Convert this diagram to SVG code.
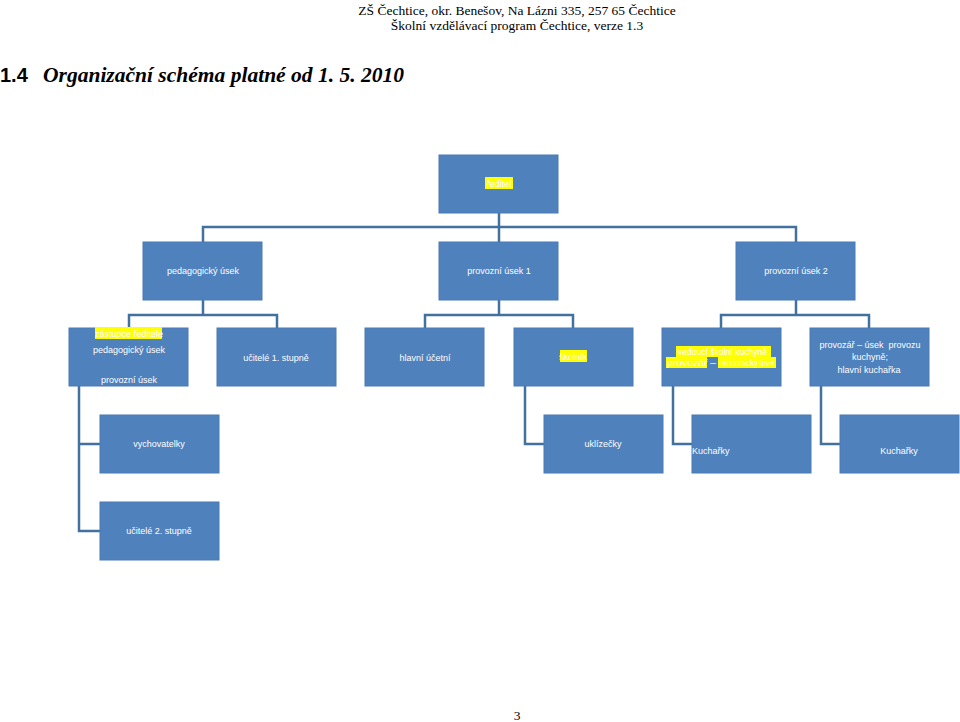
<svg xmlns="http://www.w3.org/2000/svg" width="960" height="722" viewBox="0 0 960 722">
<style>
.hdr{font-family:"Liberation Serif",serif;font-size:13.5px;fill:#000;text-anchor:middle}
.ttl{font-family:"Liberation Serif",serif;font-size:22px;font-weight:bold;font-style:italic;fill:#000}
.num{font-family:"Liberation Sans",sans-serif;font-size:20px;font-weight:bold;fill:#000}
.box{fill:#4f81bd;stroke:#4a7ab5;stroke-width:1}
.t{font-family:"Liberation Sans","DejaVu Sans",sans-serif;font-size:9px;fill:#fff;text-anchor:middle}
.hl{fill:#ffff00}
.c{fill:none;stroke:#41719c;stroke-width:2.5}
</style>
<rect width="960" height="722" fill="#fff"/>
<text class="hdr" x="517" y="15">ZŠ Čechtice, okr. Benešov, Na Lázni 335, 257 65 Čechtice</text>
<text class="hdr" x="517" y="30">Školní vzdělávací program Čechtice, verze 1.3</text>
<text class="num" x="0" y="82">1.4</text>
<text class="ttl" x="43" y="82" textLength="361" lengthAdjust="spacingAndGlyphs">Organizační schéma platné od 1. 5. 2010</text>

<g id="connectors">
<path class="c" d="M499,213 V227 M203,242 V227 H796 V242 M499,227 V242"/>
<path class="c" d="M203,300 V315 M129,328 V315 H277 V328"/>
<path class="c" d="M499,300 V315 M425,328 V315 H573 V328"/>
<path class="c" d="M796,300 V315 M721,328 V315 H869 V328"/>
<path class="c" d="M79,386 V531 H100 M79,444 H100"/>
<path class="c" d="M525,386 V444 H544"/>
<path class="c" d="M673,386 V444 H692"/>
<path class="c" d="M821,386 V444 H840"/>
</g>

<g id="reditel">
<rect class="box" x="439" y="155" width="119" height="58"/>
<rect class="hl" x="485" y="177" width="28" height="12"/>
<text class="t" x="499" y="187">ředitel</text>
</g>
<g id="pedagogicky">
<rect class="box" x="143" y="242" width="119" height="58"/>
<text class="t" x="203" y="274">pedagogický úsek</text>
</g>
<g id="provozni1">
<rect class="box" x="439" y="242" width="119" height="58"/>
<text class="t" x="499" y="274">provozní úsek 1</text>
</g>
<g id="provozni2">
<rect class="box" x="736" y="242" width="119" height="58"/>
<text class="t" x="796" y="274">provozní úsek 2</text>
</g>

<g id="zastupce">
<rect class="box" x="69" y="328" width="119" height="58"/>
<rect class="hl" x="95" y="327" width="67" height="12"/>
<text class="t" x="129" y="337">zástupce ředitele</text>
<text class="t" x="129" y="353">pedagogický úsek</text>
<text class="t" x="129" y="383">provozní úsek</text>
</g>
<g id="ucitele1">
<rect class="box" x="217" y="328" width="119" height="58"/>
<text class="t" x="276" y="361">učitelé 1. stupně</text>
</g>
<g id="ucetni">
<rect class="box" x="365" y="328" width="119" height="58"/>
<text class="t" x="425" y="361">hlavní účetní</text>
</g>
<g id="skolnik">
<rect class="box" x="514" y="328" width="119" height="58"/>
<rect class="hl" x="560" y="350" width="27" height="12"/>
<text class="t" x="573" y="360">školník</text>
</g>
<g id="vedouci">
<rect class="box" x="662" y="328" width="119" height="58"/>
<rect class="hl" x="676" y="346" width="95" height="11"/>
<rect class="hl" x="666" y="357" width="41" height="11"/>
<rect class="hl" x="718" y="357" width="58" height="11"/>
<text class="t" x="678" y="355" style="text-anchor:start" textLength="89" lengthAdjust="spacingAndGlyphs">vedoucí školní kuchyně</text>
<text class="t" x="667" y="366" style="text-anchor:start" textLength="49" lengthAdjust="spacingAndGlyphs">provozář –</text>
<text class="t" x="719" y="366" style="text-anchor:start" textLength="56" lengthAdjust="spacingAndGlyphs">ekonomický úsek</text>
</g>
<g id="provozar">
<rect class="box" x="810" y="328" width="119" height="58"/>
<text class="t" x="870" y="348" xml:space="preserve">provozář – úsek  provozu</text>
<text class="t" x="870" y="360">kuchyně;</text>
<text class="t" x="869" y="373">hlavní kuchařka</text>
</g>

<g id="vychovatelky">
<rect class="box" x="100" y="415" width="119" height="58"/>
<text class="t" x="159" y="447">vychovatelky</text>
</g>
<g id="uklizecky">
<rect class="box" x="544" y="415" width="119" height="58"/>
<text class="t" x="603" y="447">uklízečky</text>
</g>
<g id="kucharky1">
<rect class="box" x="692" y="415" width="119" height="58"/>
<text class="t" x="692" y="454" style="text-anchor:start">Kuchařky</text>
</g>
<g id="kucharky2">
<rect class="box" x="840" y="415" width="119" height="58"/>
<text class="t" x="899" y="454">Kuchařky</text>
</g>
<g id="ucitele2">
<rect class="box" x="100" y="502" width="119" height="58"/>
<text class="t" x="159" y="534">učitelé 2. stupně</text>
</g>

<text class="hdr" x="517" y="720">3</text>
</svg>
